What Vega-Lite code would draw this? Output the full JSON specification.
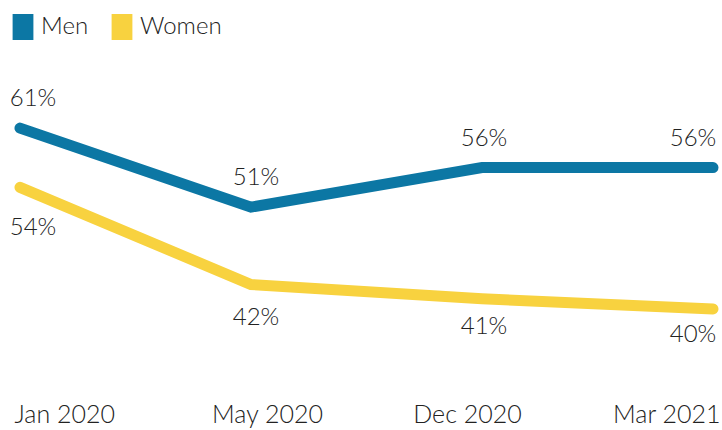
{
  "$schema": "https://vega.github.io/schema/vega-lite/v6.json",
  "width": 693,
  "height": 316,
  "autosize": "none",
  "padding": {"left": 20, "top": 57, "right": 9, "bottom": 57},
  "background": "white",
  "config": {"view": {"stroke": null}, "font": "Lato"},
  "data": {"values": [
    {"date": "Jan 2020", "series": "Men", "value": 61, "label": "61%"},
    {"date": "May 2020", "series": "Men", "value": 51, "label": "51%"},
    {"date": "Dec 2020", "series": "Men", "value": 56, "label": "56%"},
    {"date": "Mar 2021", "series": "Men", "value": 56, "label": "56%"},
    {"date": "Jan 2020", "series": "Women", "value": 53.5, "label": "54%"},
    {"date": "May 2020", "series": "Women", "value": 41.2, "label": "42%"},
    {"date": "Dec 2020", "series": "Women", "value": 39.4, "label": "41%"},
    {"date": "Mar 2021", "series": "Women", "value": 38.1, "label": "40%"}
  ]},
  "encoding": {
    "x": {"field": "date", "type": "ordinal", "sort": null,
      "scale": {"type": "point", "padding": 0},
      "axis": {"title": null, "domain": false, "ticks": false, "grid": false, "labelAngle": 0,
        "labelFontSize": 25, "labelFontWeight": 300, "labelColor": "#222222", "labelPadding": 29, "labelFont": "Lato",
        "labelAlign": {"expr": "datum.value == 'Jan 2020' ? 'left' : datum.value == 'Mar 2021' ? 'right' : 'center'"},
        "labelOffset": {"expr": "datum.value == 'Jan 2020' ? -6 : datum.value == 'May 2020' ? 16 : datum.value == 'Dec 2020' ? -15 : 7"},
        "labelBound": false, "labelOverlap": false}},
    "y": {"field": "value", "type": "quantitative", "scale": {"domain": [30, 70], "nice": false, "zero": false}, "axis": null}
  },
  "layer": [
    {
      "mark": {"type": "line", "strokeWidth": 11, "strokeCap": "round", "strokeJoin": "miter"},
      "encoding": {
        "color": {"field": "series", "type": "nominal",
          "scale": {"domain": ["Men", "Women"], "range": ["#0c77a4", "#f8d23f"]},
          "legend": {"title": null, "orient": "none", "legendX": -10, "legendY": -43, "direction": "horizontal",
            "symbolType": "M-0.8,-1H0.8V1H-0.8Z", "symbolSize": 676, "symbolStrokeWidth": 0, "symbolOpacity": 1,
            "labelFontSize": 24, "labelFontWeight": 300, "labelColor": "#222222", "labelFont": "Lato", "columnPadding": 20, "labelOffset": 5,
            "encode": {"symbols": {"update": {"fill": {"signal": "scale('color', datum.value)"}, "strokeWidth": {"value": 0}}}}}}
      }
    },
    {
      "mark": {"type": "text", "fontSize": 24, "fontWeight": 300, "color": "#222222", "align": "center", "baseline": "middle",
        "dx": {"expr": "datum.date == 'Jan 2020' ? 13 : datum.date == 'May 2020' ? 5 : datum.date == 'Dec 2020' ? 2 : -20"},
        "dy": {"expr": "datum.series == 'Men' ? -29 : (datum.date == 'Jan 2020' ? 41 : datum.date == 'May 2020' ? 33 : datum.date == 'Dec 2020' ? 28 : 26)"}},
      "encoding": {"text": {"field": "label", "type": "nominal"}}
    }
  ]
}
